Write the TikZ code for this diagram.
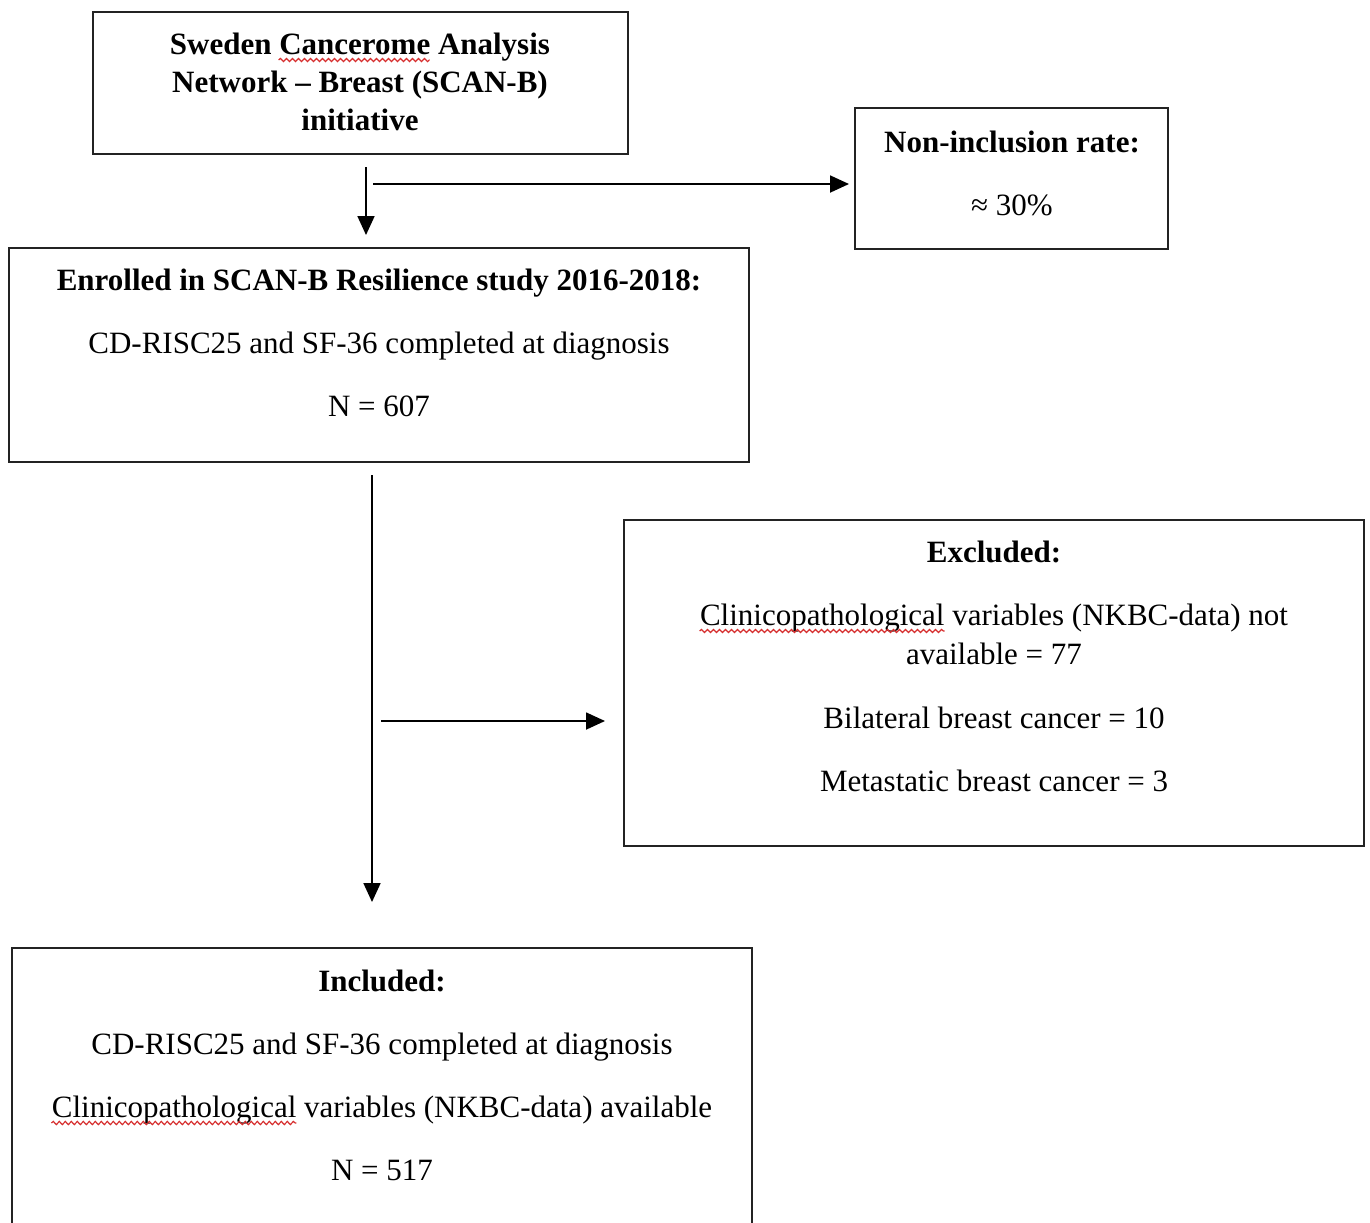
\documentclass[tikz,border=0pt]{standalone}
\usepackage{fontspec}
\setmainfont{Liberation Serif}
\usepackage{tikz}
\usetikzlibrary{arrows.meta,positioning,fit,decorations.pathmorphing}
\definecolor{boxline}{RGB}{35,35,35}
\definecolor{spellred}{RGB}{214,46,46}

\begin{document}
\begin{tikzpicture}[x=0.5pt, y=-0.5pt,
    box/.style={draw=boxline, line width=1pt, inner sep=0pt},
    txt/.style={anchor=base, inner sep=0pt, font=\fontsize{15.5}{19}\selectfont},
    head/.style={txt, font=\fontsize{15.5}{19}\selectfont\bfseries},
    arr/.style={draw=black, line width=0.9pt, -{Triangle[length=9.5pt,width=8.5pt]}},
    wave/.style={draw=spellred, line width=0.6pt, decorate, decoration={snake, amplitude=0.8pt, segment length=3pt}}
  ]
  \useasboundingbox (0,0) rectangle (1370,1222);

  % boxes
  \node[box, fit={(93,12) (628,154)}] (scan) {};
  \node[box, fit={(855,108) (1168,249)}] (nonincl) {};
  \node[box, fit={(9,248) (749,462)}] (enrolled) {};
  \node[box, fit={(624,520) (1364,846)}] (excluded) {};
  \node[box, fit={(12,948) (752,1250)}] (included) {};

  % texts
  \foreach \y/\t [count=\i] in {54/{Sweden Cancerome Analysis}, 92/{Network – Breast (SCAN-B)}, 130/{initiative}}
    \node[head] (scan-\i) at (360,\y) {\t};

  \node[head] (nonincl-1) at (1012,152) {Non-inclusion rate:};
  \node[txt] (nonincl-2) at (1012,215) {≈ 30\%};

  \node[head] (enrolled-1) at (379,290) {Enrolled in SCAN-B Resilience study 2016-2018:};
  \foreach \y/\t [count=\i from 2] in {353/{CD-RISC25 and SF-36 completed at diagnosis}, 416/{N = 607}}
    \node[txt] (enrolled-\i) at (379,\y) {\t};

  \node[head] (excluded-1) at (994,562) {Excluded:};
  \foreach \y/\t [count=\i from 2] in {625/{Clinicopathological variables (NKBC-data) not}, 664/{available = 77}, 728/{Bilateral breast cancer = 10}, 791/{Metastatic breast cancer = 3}}
    \node[txt] (excluded-\i) at (994,\y) {\t};

  \node[head] (included-1) at (382,991) {Included:};
  \foreach \y/\t [count=\i from 2] in {1054/{CD-RISC25 and SF-36 completed at diagnosis}, 1117/{Clinicopathological variables (NKBC-data) available}, 1180/{N = 517}}
    \node[txt] (included-\i) at (382,\y) {\t};

  % spell-check marks
  \draw[wave] ([xshift=54.5pt, yshift=-3pt]scan-1.base west) -- ++(151,0);
  \draw[wave] ([yshift=-3pt]excluded-2.base west) -- ++(245,0);
  \draw[wave] ([yshift=-3pt]included-3.base west) -- ++(245,0);

  % connectors
  \coordinate (trunk1) at (366,167);
  \coordinate (split1) at (373,184);
  \coordinate (trunk2) at (372,475);
  \coordinate (split2) at (381,721);

  \draw[arr, shorten >=6pt] (trunk1) -- (trunk1 |- enrolled.north);
  \draw[arr, shorten >=2.5pt] (split1) -- (split1 -| nonincl.west);
  \draw[arr, shorten >=22.5pt] (trunk2) -- (trunk2 |- included.north);
  \draw[arr, shorten >=9pt] (split2) -- (split2 -| excluded.west);
\end{tikzpicture}
\end{document}
